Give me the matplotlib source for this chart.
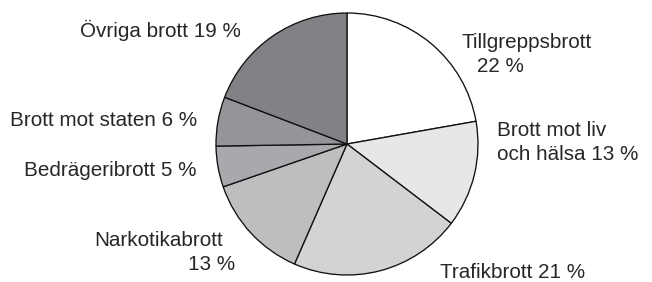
import matplotlib
matplotlib.use("Agg")
import matplotlib.pyplot as plt

# ---- data ----
categories = ["Tillgreppsbrott", "Brott mot liv och hälsa", "Trafikbrott",
              "Narkotikabrott", "Bedrägeribrott", "Brott mot staten", "Övriga brott"]
values = [22, 13, 21, 13, 5, 6, 19]
label_lines = [
    ["Tillgreppsbrott", "22 %"],
    ["Brott mot liv", "och hälsa 13 %"],
    ["Trafikbrott 21 %"],
    ["Narkotikabrott", "13 %"],
    ["Bedrägeribrott 5 %"],
    ["Brott mot staten 6 %"],
    ["Övriga brott 19 %"],
]
colors = ["#ffffff", "#e6e7e8", "#d1d3d4", "#bcbec0", "#a7a9ac", "#939598", "#808285"]

# ---- layout (pixel coordinates, y from top) ----
W, H = 652, 282
center = (347, 144)
radius = 131
line_pos = [
    [(462, 43, "left"), (477, 67, "left")],
    [(497, 130, "left"), (497, 154, "left")],
    [(440, 273, "left")],
    [(223, 241, "right"), (235, 264, "right")],
    [(197, 170, "right")],
    [(197, 120, "right")],
    [(241, 30, "right")],
]

fig = plt.figure(figsize=(W / 100, H / 100), dpi=100)
ax = fig.add_axes([0, 0, 1, 1])

ax.pie(values, colors=colors, startangle=90, counterclock=False,
       center=(center[0], H - center[1]), radius=radius,
       wedgeprops=dict(edgecolor="#111111", linewidth=0.95),
       frame=True)
ax.set_xlim(0, W)
ax.set_ylim(0, H)
ax.set_aspect("equal")
ax.axis("off")

for lines, poss in zip(label_lines, line_pos):
    for txt, (x, y, ha) in zip(lines, poss):
        ax.text(x, H - y, txt, ha=ha, va="center", fontsize=14.9,
                family="Liberation Sans", color="#2a2627")

fig.savefig("out.png", dpi=100)
